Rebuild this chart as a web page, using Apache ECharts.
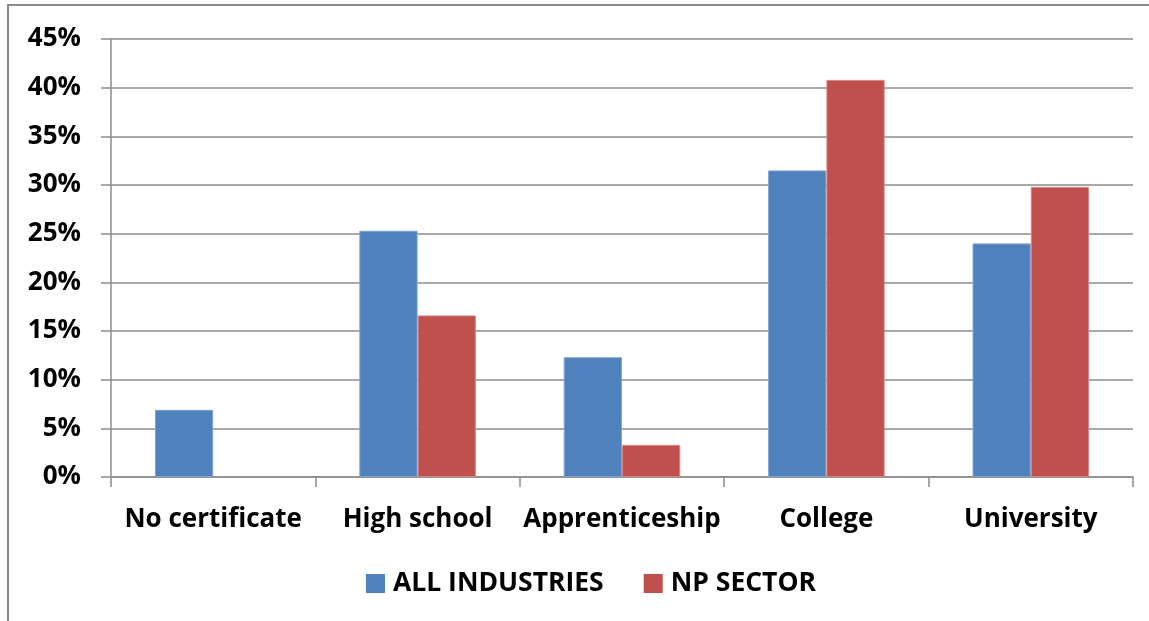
<!DOCTYPE html>
<html>
<head>
<meta charset="utf-8">
<script src="https://cdn.jsdelivr.net/npm/echarts@6/dist/echarts.min.js"></script>
<style>
  html, body { margin: 0; padding: 0; background: #fff; }
  #chart { width: 1149px; height: 621px; }
</style>
</head>
<body>
<div id="chart"></div>
<script>
// Share of workers by highest level of education (%)
const categories = ['No certificate', 'High school', 'Apprenticeship', 'College', 'University'];
const allIndustries = [6.9, 25.3, 12.3, 31.5, 24.0];
const npSector = [0, 16.6, 3.3, 40.8, 29.8];
const seriesNames = ['ALL INDUSTRIES', 'NP SECTOR'];

const FONT = '"Open Sans", "DejaVu Sans", sans-serif';
const GRID_COLOR = '#8c8c8c';

// zero-height bars get no outline so nothing shows on the baseline
function barData(values, edge) {
  return values.map(v => ({
    value: v,
    itemStyle: { borderColor: edge, borderWidth: v === 0 ? 0 : 1 }
  }));
}

const chart = echarts.init(document.getElementById('chart'), null, { renderer: 'canvas' });

chart.setOption({
  backgroundColor: '#fff',
  animation: false,
  graphic: [{
    type: 'rect',
    shape: { x: 8, y: 5, width: 1200, height: 700 },
    style: { fill: 'none', stroke: '#8a8a8a', lineWidth: 2 },
    silent: true
  }],
  grid: { left: 111, right: 16, top: 39, bottom: 144, containLabel: false },
  legend: {
    data: seriesNames,
    bottom: 19,
    left: 361,
    itemWidth: 19,
    itemHeight: 19,
    itemGap: 40,
    icon: 'rect',
    textStyle: { fontFamily: FONT, fontWeight: 'bold', fontSize: 26.5, color: '#000', padding: [2, 0, 0, 3] }
  },
  xAxis: {
    type: 'category',
    data: categories,
    boundaryGap: true,
    axisLine: { lineStyle: { color: GRID_COLOR, width: 1.5 } },
    axisTick: { show: true, length: 10, alignWithLabel: false, interval: 0, lineStyle: { color: GRID_COLOR, width: 1.5 } },
    axisLabel: { interval: 0, fontFamily: FONT, fontWeight: 'bold', fontSize: 26, color: '#000', margin: 30 }
  },
  yAxis: {
    type: 'value',
    min: 0,
    max: 45,
    interval: 5,
    axisLine: { show: true, lineStyle: { color: GRID_COLOR, width: 1.5 } },
    axisTick: { show: true, length: 10, lineStyle: { color: GRID_COLOR, width: 1.5 } },
    splitLine: { lineStyle: { color: GRID_COLOR, width: 1.5 } },
    axisLabel: {
      fontFamily: FONT, fontWeight: 'bold', fontSize: 26, color: '#000', margin: 30,
      formatter: v => v + '%'
    }
  },
  series: [
    {
      name: seriesNames[0],
      type: 'bar',
      data: barData(allIndustries, '#7fa3d2'),
      barGap: '0%',
      barCategoryGap: '43%',
      itemStyle: { color: '#4f81bd' }
    },
    {
      name: seriesNames[1],
      type: 'bar',
      data: barData(npSector, '#d88583'),
      barGap: '0%',
      barCategoryGap: '43%',
      itemStyle: { color: '#c0504d' }
    }
  ]
});
</script>
</body>
</html>
